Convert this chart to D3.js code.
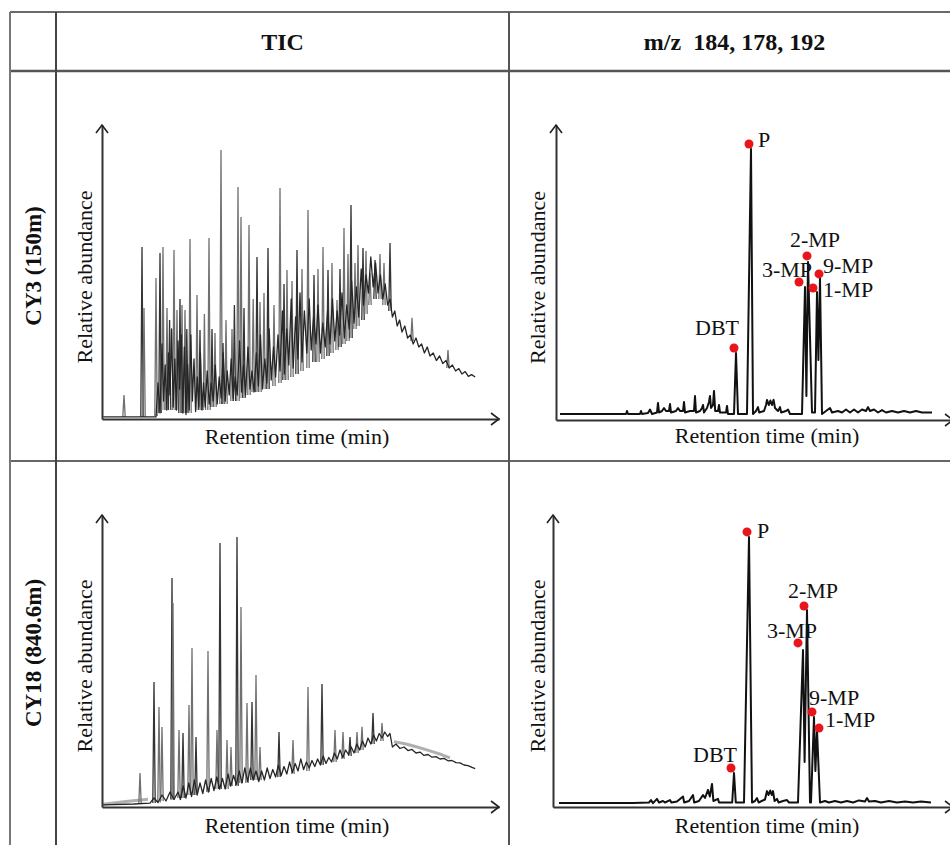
<!DOCTYPE html>
<html>
<head>
<meta charset="utf-8">
<script src="https://cdn.jsdelivr.net/npm/d3@7"></script>
<style>
  body { margin: 0; background: #fff; }
  svg { display: block; }
  text { font-family: "Liberation Serif", "Times New Roman", serif; fill: #111; }
</style>
</head>
<body>
<svg id="chart" width="950" height="845"></svg>
<script>
// Column / row headings
const columns = ["TIC", "m/z  184, 178, 192"];
const rows = ["CY3 (150m)", "CY18 (840.6m)"];
const xTitle = "Retention time (min)";
const yTitle = "Relative abundance";

// TIC, CY3: noisy trace [time, abundance] and spikes [time, base, apex]
const ticTopTrace = [
  [0.3,0.7],[13.5,0.7],[14,12],[14.5,2],[15,25],[15.4,6],[15.8,18],[16.2,3],[16.6,22],[17,8],
  [17.4,30],[17.8,4],[18.2,20],[18.6,3],[19,26],[19.4,10],[19.8,28],[20.2,2],[20.6,24],[21,1.5],
  [21.4,18],[21.8,3],[22.2,28],[22.6,6],[23,20],[23.4,2.5],[23.8,14],[24.2,4],[24.6,22],[25,3],
  [25.4,12],[25.8,4],[26.3,16],[26.8,5],[27.3,12],[27.8,6],[28.3,18],[28.8,5],[29.3,14],[29.8,7],
  [30.3,22],[30.8,6],[31.3,16],[31.8,8],[32.3,20],[32.8,7],[33.3,14],[33.8,8],[34.4,26],[34.9,9],
  [35.4,18],[35.9,8],[36.5,24],[37,10],[37.5,16],[38,9],[38.6,22],[39.1,11],[39.6,28],[40.1,10],
  [40.7,20],[41.2,12],[41.8,30],[42.3,13],[42.9,24],[43.4,14],[44,28],[44.5,16],[45.1,36],[45.6,15],
  [46.2,30],[46.7,18],[47.3,40],[47.8,17],[48.4,34],[49,20],[49.5,42],[50,19],[50.6,36],[51.2,22],
  [51.8,40],[52.3,23],[52.9,34],[53.5,25],[54,38],[54.6,22],[55.2,32],[55.8,24],[56.4,36],[57,25],
  [57.6,40],[58.2,26],[58.8,36],[59.4,28],[60,42],[60.6,27],[61.2,38],[61.8,30],[62.4,46],[63,32],
  [63.6,44],[64.2,34],[64.8,50],[65.4,38],[66,48],[66.6,42],[67.2,54],[67.8,44],[68.4,52],[69,42],
  [69.6,48],[70.2,40],[70.8,45],[71.4,38],[72,40],[72.6,34],[73.2,36],[73.8,31],[74.4,33],[75,29],
  [75.7,31],[76.4,27],[77.1,28],[77.8,25],[78.5,27],[79.2,24],[79.9,25],[80.6,22],[81.3,24],[82,21],
  [82.8,22],[83.6,19.5],[84.4,21],[85.2,18.5],[86,19.5],[86.8,17],[87.6,18],[88.4,16],[89.2,16.8],[90,15],
  [90.8,15.8],[91.6,14.2],[92.4,14.8],[93.3,14]
];
const ticTopPeaks = [
  [5.5,0.7,8],[10,0.7,57.3],[10.5,0.7,37],[13.5,1,47],[14.5,2,55.3],[15.25,3,57.3],[16.25,3,37],
  [16.9,3,33],[18,3,56.3],[18.75,3,36.3],[19.5,2,40],[20,2,38],[20.75,2,36.3],[21.2,2,30],[22,2,60],
  [23.75,3,41.3],[24.5,3,29.7],[25.6,3,35],[26.75,3,60.3],[27.5,4,30],[28.25,4,28.7],[29.75,5,89.7],
  [30.25,5,25.3],[31,5,33],[32.5,6,30],[33.1,6,38],[34,6,77.3],[34.75,7,67.3],[35.5,7,37],
  [36.75,8,64.7],[37.8,9,40],[38.75,9,54],[39.5,9,39],[40.5,10,42],[41.5,10,57],[43,11,38],
  [44.5,12,77],[45.5,13,45],[46.25,13,49.7],[47.5,14,46],[48.75,15,56.3],[50,16,50],[51.5,17,69.7],
  [53,19,48],[54,19,50],[55.25,20,57.3],[56.5,21,49.7],[57.5,22,52],[58.75,23,39.7],[59.5,24,50],
  [60.5,25,63.7],[61.5,26,55],[62.25,27,71.3],[63.25,30,52],[64,31,58],[65.25,33,57],[66,35,56],
  [67,38,48.7],[68.25,40,53],[69.5,40,55],[70.5,38,52],[72,36,58.7],[77.5,26,33.7],[86.5,17,23]
];

// TIC, CY18
const ticBottomTrace = [
  [0.3,0.7],[8,1],[12,1.3],[13,3],[14,1.5],[15,4],[16,2],[17,5],[18,2.5],[19,5],
  [19.6,2.5],[20.3,7],[21,3],[21.7,8],[22.4,3.5],[23.1,9],[23.8,4],[24.5,8],[25.2,4.5],[25.9,9],
  [26.6,5],[27.3,9.5],[28,5.5],[28.7,10],[29.4,6],[30.1,9.5],[30.8,6],[31.5,11],[32.2,7],[32.9,10.5],
  [33.6,7.5],[34.3,12],[35,8],[35.7,13],[36.4,8.5],[37.1,13],[37.8,9],[38.5,12],[39.2,8.5],[39.9,12],
  [40.6,9],[41.3,13],[42,9.5],[42.7,12.5],[43.4,10],[44.1,14],[44.8,10.5],[45.5,13.5],[46.2,11],[46.9,15],
  [47.6,11.5],[48.3,14.5],[49,12],[49.7,16],[50.4,12.5],[51.1,15],[51.8,13],[52.5,15.5],[53.2,13.5],[53.9,16],
  [54.6,14],[55.3,17],[56,14.5],[56.7,16.5],[57.4,15],[58.1,18],[58.8,16],[59.5,19],[60.2,16.5],[60.9,19],
  [61.6,17.5],[62.3,20],[63,18],[63.7,21],[64.4,19],[65.1,22],[65.8,20],[66.5,23],[67.2,21],[67.9,24],
  [68.6,22],[69.3,24.5],[70,23],[70.7,25],[71.4,23.5],[72,24.5],[72.6,20],[73.5,21],[74.5,19.5],[75.5,20],
  [76.5,18.8],[77.5,19.2],[78.5,18],[79.5,18.3],[80.5,17.2],[81.5,17.5],[82.5,16.6],[83.5,16.8],[84.5,16],[85.5,16.2],
  [86.5,15.4],[87.5,15.5],[88.5,14.8],[89.5,14.7],[90.5,14],[91.5,13.8],[92.5,13.2],[93.3,12.8]
];
// lighter overlaid trace (grey band) of CY18, two stretches
const ticBottomGreyStart = [[0.3,0.9],[6,1.8],[11.5,2.6]];
const ticBottomGreyTail = [[73,21.8],[76,21],[79,19.9],[82,18.7],[85,17.4],[87,16.4]];
const ticBottomPeaks = [
  [9.5,1,11.3],[13,1.3,41.7],[14.25,1.5,33.3],[15,2,26.7],[17.5,2.5,76.3],[17.75,2.5,68],
  [19.25,3,25.7],[20.25,3,24.7],[21.75,4,34],[22.5,4,53],[23.5,4,23.3],[26.5,5,52],[28.75,6,25.7],
  [29.5,6,88],[31.25,6,22.3],[32.25,7,20],[33.75,7,90],[34.75,8,66.7],[36.25,8,34.7],[37.5,9,35],
  [38.5,9,44],[39.5,9,20],[44.25,10,25],[47.75,11,22.3],[51.5,12,40],[55,14,41],[58.25,15,25.7],
  [60.25,16,25],[62,17,23.3],[63.75,18,25],[65,19,26.7],[67.75,21,31.3],[70,22,28]
];

// m/z 184, 178, 192, CY3
const mzTopTrace = [
  [1,2],[10,2],[17.5,2],[17.75,3],[18,2],[21,2],[21.25,3],[21.5,2],[23,2.3],[23.5,3.5],
  [24,2],[25.25,2.5],[25.5,5.7],[25.75,2.5],[26.5,3],[27,4],[27.5,3],[28.25,3],[28.5,5.3],[28.75,2.5],
  [30,3],[30.5,4],[31,3],[31.75,3],[32,6],[32.25,2.5],[33.5,3],[34.5,3],[34.75,8],[35,2.5],
  [36,3],[36.5,4],[36.75,5],[37,2.5],[37.75,4],[38.25,6],[38.5,8],[38.75,4],[39.25,5],[39.5,9.7],
  [39.8,3],[40.5,3],[40.75,5],[41,2.5],[42.5,2.5],[42.75,4.7],[43,2],[44.5,2],[45,22.3],[45.5,2],
  [47.75,2],[48.75,90.3],[49.25,2],[50,3],[50.5,4.3],[50.8,2.5],[52,3],[52.5,5],[52.75,6.7],[53.2,5],
  [53.6,6.5],[54,5],[54.4,6.7],[54.75,4],[55.5,3],[56,4.3],[56.3,2.5],[57.5,3],[58,3.5],[58.5,2],
  [61.5,2],[62.25,44.3],[62.6,8],[63,52.7],[64,2.5],[64.75,2.5],[65.25,42.7],[65.6,20],[66,47.3],[66.5,2],
  [67.5,3],[68.5,4],[69,2.5],[70.5,3],[71.5,2.5],[72.5,3.5],[73.5,2.5],[74.5,3.5],[75.5,2.5],[76.5,3.5],
  [77.5,3],[78,4.3],[78.5,3],[79.5,3.5],[80.5,2.5],[81.5,3.3],[82.5,2.5],[84,3],[85.5,2.5],[87,3],
  [88.5,2.5],[90,3],[91.5,2.5],[93,2.5],[94,2.5]
];
// labelled compounds: [name, time, abundance] of the red marker
const mzTopMarks = [
  ["DBT",44.5,24],["P",48.25,92],["3-MP",60.75,46],["2-MP",62.75,54.7],["1-MP",64.25,44],["9-MP",65.75,48.7]
];

// m/z 184, 178, 192, CY18
const mzBottomTrace = [
  [1.5,1.3],[10,1.3],[20,1.3],[24,1.5],[24.5,2.3],[25,1.3],[26,2.7],[26.5,1.5],[27.5,2],[28,1.5],
  [29.25,2.3],[29.6,1.5],[31,1.8],[32.5,3.5],[32.8,1.5],[34,2],[35,4],[35.3,1.5],[36.5,2],[37.5,4],
  [38,3],[38.75,5.7],[39.2,3.5],[39.75,7.7],[40.1,2],[41.25,2.7],[41.5,1.5],[43,1.5],[44.8,1.5],[45.25,11.3],
  [45.7,1.5],[47.75,1.5],[49,90],[49.75,1.5],[50.5,2],[51,3],[51.4,1.5],[53,2.5],[53.5,5.3],[53.9,4],
  [54.3,5.5],[54.7,4],[55,5.3],[55.4,2],[56,2.7],[56.4,1.5],[57.5,2],[58.5,2.3],[59,1.5],[61.25,1.5],
  [62.5,52.3],[62.9,15],[63.5,65.7],[64.25,1.5],[64.5,1.5],[65.25,30],[65.6,12],[66,25.7],[66.75,1.5],[68,2],
  [69,1.5],[70.5,2],[72,1.5],[73.5,2],[75,1.5],[76.5,2.2],[78,1.8],[78.5,3],[79,1.8],[80.5,2],
  [82,1.5],[84,2],[86,1.5],[88,1.8],[90,1.5],[92,1.8],[94.5,1.5]
];
const mzBottomMarks = [
  ["DBT",44.5,13],["P",48.5,91.7],["3-MP",61.25,54.7],["2-MP",62.75,67],["9-MP",64.75,31.7],["1-MP",66.5,26.3]
];

// ---- layout (pixels) ----
const grid = { left: 10, top: 12, col1: 56, col2: 509, head: 71, rowDiv: 461, right: 950, bottom: 845 };
const pxPerMin = 4, pxPerUnit = 3;

// label offsets from the red marker: [dx, dy, anchor]
const topPlacement = {
  "DBT": [-17, -13, "middle"], "P": [9, 3, "start"], "3-MP": [13, -5, "end"],
  "2-MP": [8, -9, "middle"], "9-MP": [4, -1, "start"], "1-MP": [10, 9, "start"]
};
const bottomPlacement = {
  "DBT": [-16, -6, "middle"], "P": [10, 6, "start"], "3-MP": [-6, -5, "middle"],
  "2-MP": [9, -8, "middle"], "9-MP": [-3, -7, "start"], "1-MP": [6, -1, "start"]
};

const panels = [
  { ox: 102, oy: 419, tipX: 499, tipY: 125, trace: ticTopTrace, peaks: ticTopPeaks, xLabelX: 297, xLabelY: 444, yLabelX: 92 },
  { ox: 556, oy: 420, tipX: 953, tipY: 125, trace: mzTopTrace, marks: mzTopMarks, place: topPlacement, xLabelX: 767, xLabelY: 443, yLabelX: 545 },
  { ox: 102, oy: 807, tipX: 499, tipY: 515, trace: ticBottomTrace, grey: [ticBottomGreyStart, ticBottomGreyTail], peaks: ticBottomPeaks, xLabelX: 297, xLabelY: 833, yLabelX: 92 },
  { ox: 553, oy: 807, tipX: 953, tipY: 515, trace: mzBottomTrace, marks: mzBottomMarks, place: bottomPlacement, xLabelX: 767, xLabelY: 833, yLabelX: 545 }
];

const svg = d3.select("#chart");

// table grid
const gridG = svg.append("g").attr("fill", "none");
const gline = (x1, y1, x2, y2, c, w) =>
  gridG.append("line").attr("x1", x1).attr("y1", y1).attr("x2", x2).attr("y2", y2)
    .attr("stroke", c).attr("stroke-width", w);
gline(grid.left, grid.top, grid.right, grid.top, "#6a6a6a", 2);
gline(grid.left, grid.head, grid.right, grid.head, "#555", 2.5);
gline(grid.left, grid.rowDiv, grid.right, grid.rowDiv, "#333", 1.5);
gline(grid.left, grid.top, grid.left, grid.bottom, "#777", 2);
gline(grid.col1, grid.top, grid.col1, grid.bottom, "#444", 2);
gline(grid.col2, grid.top, grid.col2, grid.bottom, "#555", 2);

// headings
const colCenters = [(grid.col1 + grid.col2) / 2, (grid.col2 + grid.right) / 2 + 5];
svg.selectAll("text.col").data(columns).enter().append("text")
  .attr("class", "col")
  .attr("x", (d, i) => colCenters[i]).attr("y", 50)
  .attr("text-anchor", "middle").attr("font-weight", "bold").attr("font-size", 24)
  .style("white-space", "pre")
  .text(d => d);

const rowCenters = [(grid.head + grid.rowDiv) / 2, (grid.rowDiv + grid.bottom) / 2];
svg.selectAll("text.row").data(rows).enter().append("text")
  .attr("class", "row")
  .attr("transform", (d, i) => `translate(41,${rowCenters[i]}) rotate(-90)`)
  .attr("text-anchor", "middle").attr("font-weight", "bold").attr("font-size", 23)
  .text(d => d);

function drawPanel(p) {
  const x = d3.scaleLinear().domain([0, (p.tipX - p.ox) / pxPerMin]).range([p.ox, p.tipX]);
  const y = d3.scaleLinear().domain([0, (p.oy - p.tipY) / pxPerUnit]).range([p.oy, p.tipY]);
  const g = svg.append("g");
  const line = d3.line().x(d => x(d[0])).y(d => y(d[1]));

  if (p.grey) {
    g.selectAll("path.grey").data(p.grey).enter().append("path")
      .attr("class", "grey")
      .attr("d", line).attr("fill", "none")
      .attr("stroke", "#b0b0b0").attr("stroke-width", 3).attr("stroke-linejoin", "round");
  }

  // spikes of the TIC
  if (p.peaks) {
    g.selectAll("path.peak").data(p.peaks).enter().append("path")
      .attr("class", "peak")
      .attr("d", d => line([[d[0] - 0.3, d[1]], [d[0], d[2]], [d[0] + 0.3, d[1]]]))
      .attr("fill", "none").attr("stroke", (d, i) => i % 3 === 1 ? "#333" : "#707070")
      .attr("stroke-width", 1.3);
  }

  // trace
  g.append("path").datum(p.trace)
    .attr("d", line).attr("fill", "none")
    .attr("stroke", p.marks ? "#111" : "#262626")
    .attr("stroke-width", p.marks ? 2 : 1.3)
    .attr("stroke-linejoin", "round");

  // axes without ticks
  g.append("g").attr("transform", `translate(0,${p.oy})`)
    .call(d3.axisBottom(x).tickValues([]).tickSizeOuter(0))
    .call(a => a.select(".domain").attr("stroke", "#333").attr("stroke-width", 2));
  g.append("g").attr("transform", `translate(${p.ox},0)`)
    .call(d3.axisLeft(y).tickValues([]).tickSizeOuter(0))
    .call(a => a.select(".domain").attr("stroke", "#333").attr("stroke-width", 2));

  // open arrow heads
  const xEnd = x.range()[1], yEnd = y.range()[1];
  g.append("path").attr("d", `M${xEnd - 8},${p.oy - 6}L${xEnd},${p.oy}L${xEnd - 8},${p.oy + 6}`)
    .attr("fill", "none").attr("stroke", "#222").attr("stroke-width", 1.6);
  g.append("path").attr("d", `M${p.ox - 6},${yEnd + 8}L${p.ox},${yEnd}L${p.ox + 6},${yEnd + 8}`)
    .attr("fill", "none").attr("stroke", "#222").attr("stroke-width", 1.6);

  // axis titles
  g.append("text").attr("x", p.xLabelX).attr("y", p.xLabelY)
    .attr("text-anchor", "middle").attr("font-size", 22).text(xTitle);
  g.append("text")
    .attr("transform", `translate(${p.yLabelX},${(p.oy + p.tipY) / 2 + 5}) rotate(-90)`)
    .attr("text-anchor", "middle").attr("font-size", 22).text(yTitle);

  // compound markers
  if (p.marks) {
    g.selectAll("circle.mark").data(p.marks).enter().append("circle")
      .attr("class", "mark")
      .attr("cx", d => x(d[1])).attr("cy", d => y(d[2])).attr("r", 4.5)
      .attr("fill", "#e8161c");
    g.selectAll("text.mark").data(p.marks).enter().append("text")
      .attr("class", "mark")
      .attr("x", d => x(d[1]) + p.place[d[0]][0])
      .attr("y", d => y(d[2]) + p.place[d[0]][1])
      .attr("text-anchor", d => p.place[d[0]][2])
      .attr("font-size", 22).text(d => d[0]);
  }
}

panels.forEach(drawPanel);
</script>
</body>
</html>
